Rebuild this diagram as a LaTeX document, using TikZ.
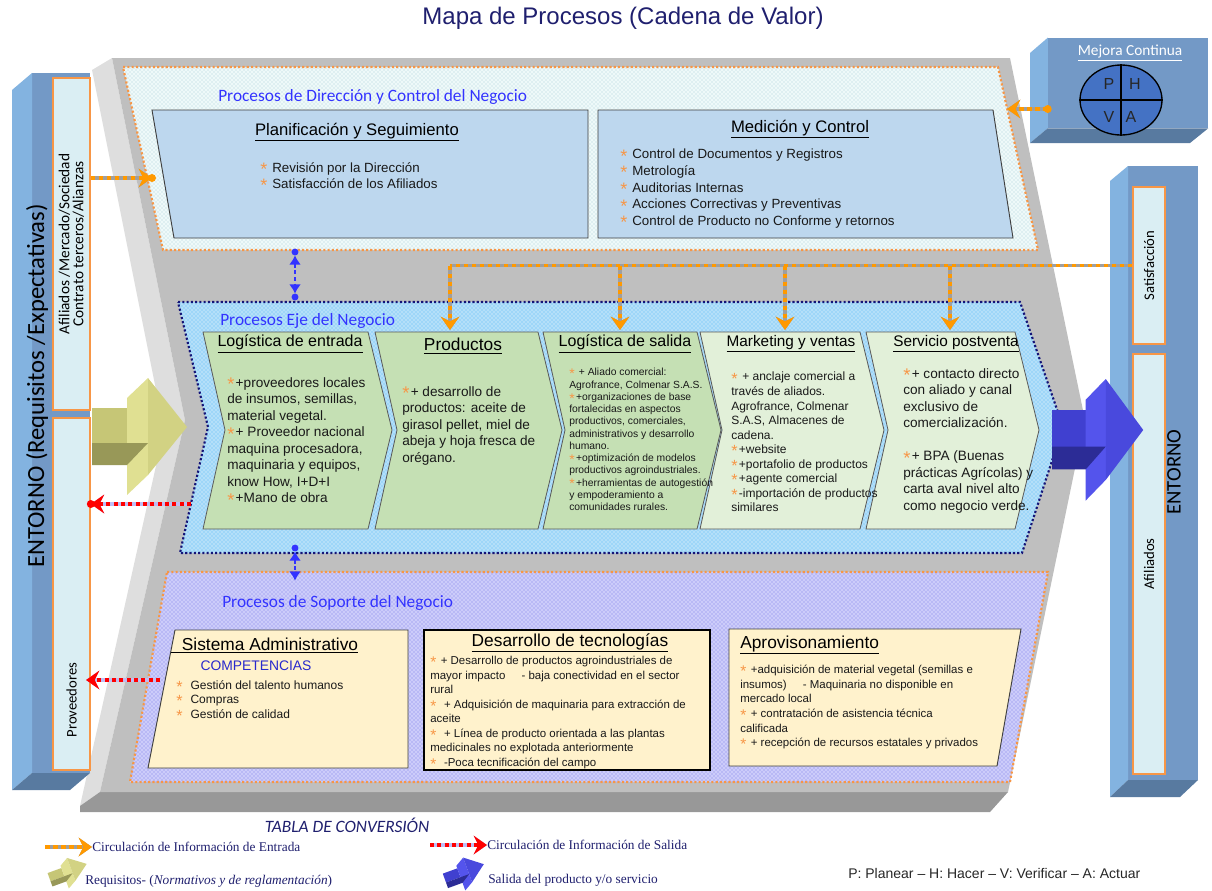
\documentclass[tikz,border=0pt]{standalone}
\usepackage{fontspec}
\setmainfont{Liberation Sans}
\newfontfamily\calibri{Carlito}
\newfontfamily\tnrfont{Liberation Serif}
\usepackage{xcolor}
\usepackage{graphicx}
\usetikzlibrary{arrows.meta,patterns,positioning,calc,shapes.geometric}

\definecolor{navyT}{RGB}{31,31,110}
\definecolor{grayF}{RGB}{191,191,191}
\definecolor{grayL}{RGB}{222,222,222}
\definecolor{grayD}{RGB}{152,152,152}
\definecolor{dirFill}{RGB}{238,249,249}
\definecolor{dirPat}{RGB}{170,210,215}
\definecolor{ejeFill}{RGB}{158,214,248}
\definecolor{supFill}{RGB}{204,204,250}
\definecolor{supPat}{RGB}{125,125,230}
\definecolor{navyD}{RGB}{20,20,120}
\definecolor{boxBlue}{RGB}{189,215,238}
\definecolor{greenA}{RGB}{197,224,180}
\definecolor{greenB}{RGB}{226,240,217}
\definecolor{cream}{RGB}{255,242,204}
\definecolor{orangeB}{RGB}{247,150,70}
\definecolor{orangeA}{RGB}{255,153,0}
\definecolor{labBlue}{RGB}{51,51,255}
\definecolor{lav}{RGB}{190,190,245}
\definecolor{barF}{RGB}{115,153,198}
\definecolor{barL}{RGB}{131,179,224}
\definecolor{barD}{RGB}{88,122,160}
\definecolor{paleCyan}{RGB}{218,238,243}
\definecolor{phvaB}{RGB}{68,114,196}
\definecolor{yelF}{RGB}{198,198,118}
\definecolor{yelL}{RGB}{224,224,146}
\definecolor{yelD}{RGB}{152,152,88}
\definecolor{bluF}{RGB}{64,64,208}
\definecolor{bluL}{RGB}{84,84,236}
\definecolor{bluD}{RGB}{44,44,150}

\newcommand{\bul}{\textcolor{orangeB}{\raisebox{-0.5ex}{\scalebox{1.35}{*}}}\kern1pt}
% 3d block arrow, local size 95 x 117
\newcommand{\blockarrow}[3]{%
  \fill[#1] (0,30) -- (35,30) -- (35,65) -- (0,65) -- cycle;
  \fill[#2] (35,20) -- (56,0) -- (56,97) -- (35,117) -- cycle;
  \fill[#3] (0,65) -- (56,65) -- (35,87) -- (0,87) -- cycle;
  \fill[#1!55!#2] (56,0) -- (95,49) -- (56,97) -- cycle;
}

\begin{document}
\begin{tikzpicture}[x=0.75pt, y=-0.75pt,
  ttl/.style={inner sep=0pt, text=black},
  txt/.style={inner sep=0pt, anchor=north west, align=left, text=black!90},
  reglab/.style={inner sep=0pt, anchor=west, text=labBlue, font=\calibri\fontsize{13}{15}\selectfont},
  boxline/.style={draw=black!75, line width=0.7pt},
  chev/.style={draw=black!65, line width=0.6pt},
  sidebox/.style={draw=orangeB, line width=1.2pt, fill=paleCyan, inner sep=0pt},
  sidetxt/.style={rotate=90, inner sep=0pt, align=center, font=\calibri\fontsize{11}{11}\selectfont},
  infoin/.style={line width=2.6pt, draw=gray!75, postaction={draw=orangeA, dash pattern=on 3.5pt off 2.5pt}},
  infotip/.style={-{Stealth[length=10pt, width=14pt, inset=3.5pt]}},
  infoout/.style={line width=2.6pt, draw=lav, postaction={draw=red, dash pattern=on 3pt off 2.5pt}, -{Stealth[length=10pt, width=14pt, inset=3.5pt]}},
  twoway/.style={draw=labBlue, line width=1.4pt, dash pattern=on 3pt off 2pt, {Latex[length=7pt, width=9pt]}-{Latex[length=7pt, width=9pt]}, shorten <=2.5pt, shorten >=2.5pt},
  leg/.style={inner sep=0pt, anchor=west, text=navyT, font=\tnrfont\fontsize{10}{12}\selectfont}
]
\useasboundingbox (0,0) rectangle (1212,890);

% Title
\node[inner sep=0pt, text=navyT, font=\fontsize{18}{20}\selectfont] (title) at (623,18) {Mapa de Procesos (Cadena de Valor)};

% Chain body with 3d sides
\fill[grayL] (92,70) -- (112,58) -- (185,420) -- (100,792) -- (80,806) -- (164,430) -- cycle;
\fill[grayD] (100,792) -- (1008,792) -- (990,812) -- (80,812) -- (80,806) -- cycle;
\fill[grayF] (112,58) -- (1010,58) -- (1085,420) -- (1008,792) -- (100,792) -- (185,420) -- cycle;

% Direction region
\draw[orangeB, line width=1.6pt, dash pattern=on 1.6pt off 1.6pt, preaction={fill=dirFill}, preaction={pattern=crosshatch dots, pattern color=dirPat}]
  (123,67) -- (998,67) -- (1038,250) -- (163,250) -- cycle;
\node[reglab] (dirlab) at (218,97) {Procesos de Dirección y Control del Negocio};

\filldraw[boxline, fill=boxBlue] (152,110) -- (588,110) -- (588,238) -- (174,238) -- cycle;
\node[ttl, font=\fontsize{12.5}{14}\selectfont] (plan) at (357,132) {\underline{Planificación y Seguimiento}};
\node[txt, font=\fontsize{10}{12}\selectfont] (planlist) at (260,162) {\bul\ Revisión por la Dirección\\\bul\ Satisfacción de los Afiliados};

\filldraw[boxline, fill=boxBlue] (598,110) -- (993,110) -- (1013,238) -- (598,238) -- cycle;
\node[ttl, font=\fontsize{12.5}{14}\selectfont] (med) at (800,129) {\underline{Medición y Control}};
\node[txt, font=\fontsize{10}{12.4}\selectfont] (medlist) at (620,149) {\bul\ Control de Documentos y Registros\\\bul\ Metrología\\\bul\ Auditorias Internas\\\bul\ Acciones Correctivas y Preventivas\\\bul\ Control de Producto no Conforme y retornos};

% Core region
\draw[navyD, line width=1.6pt, dash pattern=on 1.6pt off 1.6pt, preaction={fill=ejeFill}, preaction={pattern=crosshatch dots, pattern color=white}]
  (178,302) -- (1020,302) -- (1063,427) -- (1022,553) -- (180,553) -- (208,427) -- cycle;
\node[reglab] (ejelab) at (220,321) {Procesos Eje del Negocio};

\foreach \n/\l/\r/\col in {1/203/368/greenA, 2/375/538/greenA, 3/543/697/greenA, 4/700/860/greenB, 5/866/1015/greenB}{
  \pgfmathsetmacro{\tip}{\r+24}
  \pgfmathsetmacro{\nch}{\l+22}
  \filldraw[chev, fill=\col] (\l,332) -- (\r,332) -- (\tip,430) -- (\r,529) -- (\l,529) -- (\nch,430) -- cycle;
}
\node[ttl, font=\fontsize{12}{14}\selectfont] (ent) at (290,344) {\underline{Logística de entrada}};
\node[ttl, font=\fontsize{13}{15}\selectfont] (prod) at (463,346) {\underline{Productos}};
\node[ttl, font=\fontsize{12}{14}\selectfont] (sal) at (625,344) {\underline{Logística de salida}};
\node[ttl, font=\fontsize{11.5}{14}\selectfont] (mkt) at (791,344) {\underline{Marketing y ventas}};
\node[ttl, font=\fontsize{11.5}{14}\selectfont] (post) at (956,344) {\underline{Servicio postventa}};

\node[txt, font=\fontsize{10.2}{12.4}\selectfont] (entlist) at (227,377) {\bul+proveedores locales\\de insumos, semillas,\\material vegetal.\\\bul+ Proveedor nacional\\maquina procesadora,\\maquinaria y equipos,\\know How, I+D+I\\\bul+Mano de obra};
\node[txt, font=\fontsize{10.2}{12.4}\selectfont] (prodlist) at (402,386) {\bul+ desarrollo de\\productos: aceite de\\girasol pellet, miel de\\abeja y hoja fresca de\\orégano.};
\node[txt, font=\fontsize{7.75}{9.2}\selectfont] (sallist) at (569,368) {\bul\ + Aliado comercial:\\Agrofrance, Colmenar S.A.S.\\\bul+organizaciones de base\\fortalecidas en aspectos\\productivos, comerciales,\\administrativos y desarrollo\\humano.\\\bul+optimización de modelos\\productivos agroindustriales.\\\bul+herramientas de autogestión\\y empoderamiento a\\comunidades rurales.};
\node[txt, font=\fontsize{9}{10.9}\selectfont] (mktlist) at (731,372) {\bul\ + anclaje comercial a\\través de aliados.\\Agrofrance, Colmenar\\S.A.S, Almacenes de\\cadena.\\\bul+website\\\bul+portafolio de productos\\\bul+agente comercial\\\bul-importación de productos\\similares};
\node[txt, font=\fontsize{10.2}{12.4}\selectfont] (postlist) at (903,368) {\bul+ contacto directo\\con aliado y canal\\exclusivo de\\comercialización.\\[12.4pt]\bul+ BPA (Buenas\\prácticas Agrícolas) y\\carta aval nivel alto\\como negocio verde.};

% Support region
\draw[orangeB, line width=1.6pt, dash pattern=on 1.6pt off 1.6pt, preaction={fill=supFill}, preaction={pattern=crosshatch dots, pattern color=supPat}]
  (167,572) -- (1048,572) -- (1010,782) -- (130,782) -- cycle;
\node[reglab] (suplab) at (222,603) {Procesos de Soporte del Negocio};

\filldraw[boxline, fill=cream] (175,630) -- (408,630) -- (408,768) -- (148,768) -- cycle;
\draw[line width=0.6pt] (171,652) -- (358,652);
\node[ttl, font=\fontsize{13}{15}\selectfont] (sis) at (270,644) {Sistema Administrativo};
\node[inner sep=0pt, text=labBlue!80!black, font=\fontsize{10.4}{12}\selectfont] (comp) at (256,666) {COMPETENCIAS};
\node[txt, font=\fontsize{9}{10.9}\selectfont] (sislist) at (176,680) {\bul\ \ Gestión del talento humanos\\\bul\ \ Compras\\\bul\ \ Gestión de calidad};

\node[draw=black, line width=1.6pt, fill=cream, minimum width=214.5pt, minimum height=105pt, inner sep=0pt] (des) at (567,700) {};
\node[ttl, font=\fontsize{13}{15}\selectfont] (desttl) at (570,643) {\underline{Desarrollo de tecnologías}};
\node[txt, font=\fontsize{8.6}{10.9}\selectfont] (deslist) at (430,656) {\bul\ + Desarrollo de productos agroindustriales de\\mayor impacto\hspace{1.4em}- baja conectividad en el sector\\rural\\\bul\ \ + Adquisición de maquinaria para extracción de\\aceite\\\bul\ \ + Línea de producto orientada a las plantas\\medicinales no explotada anteriormente\\\bul\ \ -Poca tecnificación del campo};

\filldraw[boxline, fill=cream] (729,629) -- (1021,629) -- (997,766) -- (729,766) -- cycle;
\node[ttl, anchor=west, font=\fontsize{13}{15}\selectfont] (aprttl) at (740,645) {\underline{Aprovisonamiento}};
\node[txt, font=\fontsize{8.6}{10.95}\selectfont] (aprlist) at (740,665) {\bul\ +adquisición de material vegetal (semillas e\\insumos)\hspace{1.4em}- Maquinaria no disponible en\\mercado local\\\bul\ + contratación de asistencia técnica\\calificada\\\bul\ + recepción de recursos estatales y privados};

% Left environment bar
\fill[barF] (32,73) rectangle (90,773);
\fill[barL] (12,90) -- (32,73) -- (32,773) -- (12,790) -- cycle;
\fill[barD] (12,790) -- (32,773) -- (90,773) -- (70,790) -- cycle;
\node[rotate=90, inner sep=0pt, font=\calibri\fontsize{18.5}{20}\selectfont] (entL) at (37,386) {ENTORNO (Requisitos /Expectativas)};
\node[sidebox, minimum width=27.75pt, minimum height=249pt] (afil) at (71.5,244) {};
\node[sidetxt, font=\calibri\fontsize{11.5}{10.5}\selectfont] (afiltxt) at (afil) {Afiliados /Mercado/Sociedad\\Contrato terceros/Alianzas};
\node[sidebox, minimum width=27.75pt, minimum height=264pt] (prov) at (71.5,594) {};
\node[sidetxt] (provtxt) at (71.5,700) {Proveedores};

% Right environment bar
\fill[barF] (1128,166) rectangle (1198,780);
\fill[barL] (1110,181) -- (1128,166) -- (1128,780) -- (1110,797) -- cycle;
\fill[barD] (1110,797) -- (1128,780) -- (1198,780) -- (1180,797) -- cycle;
\node[sidebox, minimum width=24pt, minimum height=117.75pt] (sat) at (1149,265.5) {};
\node[sidetxt] (sattxt) at (sat) {Satisfacción};
\node[sidebox, minimum width=24pt, minimum height=315pt] (afil2) at (1149,564) {};
\node[sidetxt] (afil2txt) at (afil2) {Afiliados};
\node[rotate=90, inner sep=0pt, font=\calibri\fontsize{15.5}{17}\selectfont] (entR) at (1174,472) {ENTORNO};

% Continuous improvement box
\node[fill=barF, minimum width=120pt, minimum height=67.5pt, inner sep=0pt] (mejora) at (1128,83) {};
\fill[barL] (1030,53) -- (mejora.north west) -- (mejora.south west) -- (1030,143) -- cycle;
\fill[barD] (1030,143) -- (mejora.south west) -- (mejora.south east) -- (1190,143) -- cycle;
\node[inner sep=0pt, text=white, font=\calibri\fontsize{11.5}{13}\selectfont] (mejttl) at (1130,53) {\underline{Mejora Continua}};
\node[ellipse, draw=black, line width=1pt, fill=phvaB, minimum width=61.5pt, minimum height=52.5pt, inner sep=0pt] (phva) at (1121,100) {};
\draw[line width=1pt] (phva.north) -- (phva.south);
\draw[line width=1pt] (phva.west) -- (phva.east);
\foreach \ltr/\px/\py in {P/1109/84, H/1135/84, V/1109/117, A/1131/117}{
  \node[inner sep=0pt, text=black!85, font=\fontsize{12}{14}\selectfont] (phva\ltr) at (\px,\py) {\ltr};
}

% 3d block arrows
\begin{scope}[shift={(92,378)}]
  \blockarrow{yelF}{yelL}{yelD}
\end{scope}
\begin{scope}[shift={(1052,379)}, xscale=0.96, yscale=1.04]
  \blockarrow{bluF}{bluL}{bluD}
\end{scope}

% Information flows in
\coordinate (planin) at (152,178);
\draw[infoin, infotip] (afil.east |- planin) -- (planin);
\fill[orangeA] (planin) circle[radius=3pt];
\coordinate (dirin) at (1007,109);
\draw[infoin, infotip] (mejora.west |- dirin) -- (dirin);
\fill[orangeA] (mejora.west |- dirin) circle[radius=3pt];
\coordinate (drop1) at (450,330);
\coordinate (drop2) at (620,330);
\coordinate (drop3) at (785,330);
\coordinate (drop4) at (950,330);
\draw[infoin] (sat.west) -- (drop1 |- sat.west);
\foreach \d in {drop1, drop2, drop3, drop4}{
  \draw[infoin, infotip] (\d |- sat.west) -- (\d);
}

% Information flows out
\coordinate (ejeout) at (191,504);
\draw[infoout] (ejeout) -- (prov.east |- ejeout);
\fill[red] (prov.east |- ejeout) circle[radius=3pt];
\coordinate (sisout) at (160,680);
\coordinate (provin) at (86,680);
\draw[infoout] (sisout) -- (provin);

% Links between levels
\coordinate (dirbot) at (295,252);
\coordinate (ejetop) at (295,297);
\coordinate (ejebot) at (295,548);
\coordinate (suptop) at (295,584);
\draw[twoway] (dirbot) -- (ejetop);
\draw[twoway] (ejebot) -- (suptop);
\foreach \p in {dirbot, ejetop, ejebot}{
  \fill[labBlue] (\p) circle[radius=2.6pt];
}

% Legend
\node[inner sep=0pt, text=navyT, font=\calibri\itshape\fontsize{13}{15}\selectfont] (tabla) at (347,825) {TABLA DE CONVERSIÓN};
\coordinate (lgina) at (45,847);
\coordinate (lginb) at (92,847);
\draw[infoin, infotip] (lgina) -- (lginb);
\node[leg] (lgin) at (lginb) {Circulación de Información de Entrada};
\coordinate (lgouta) at (430,845);
\coordinate (lgoutb) at (487,845);
\draw[infoout] (lgouta) -- (lgoutb);
\node[leg] (lgout) at (lgoutb) {Circulación de Información de Salida};
\begin{scope}[shift={(45,866)}, rotate=20, xscale=0.42, yscale=0.25]
  \blockarrow{yelF}{yelL}{yelD}
\end{scope}
\node[leg] (lgreq) at (85,881) {Requisitos- (\textit{Normativos y de reglamentación})};
\begin{scope}[shift={(440,866)}, rotate=20, xscale=0.44, yscale=0.27]
  \blockarrow{bluF}{bluL}{bluD}
\end{scope}
\node[leg] (lgsal) at (488,880) {Salida del producto y/o servicio};
\node[inner sep=0pt, anchor=west, text=black!85, font=\fontsize{10.5}{12}\selectfont] (lgphva) at (848,873) {P: Planear – H: Hacer – V: Verificar – A: Actuar};

\end{tikzpicture}
\end{document}
